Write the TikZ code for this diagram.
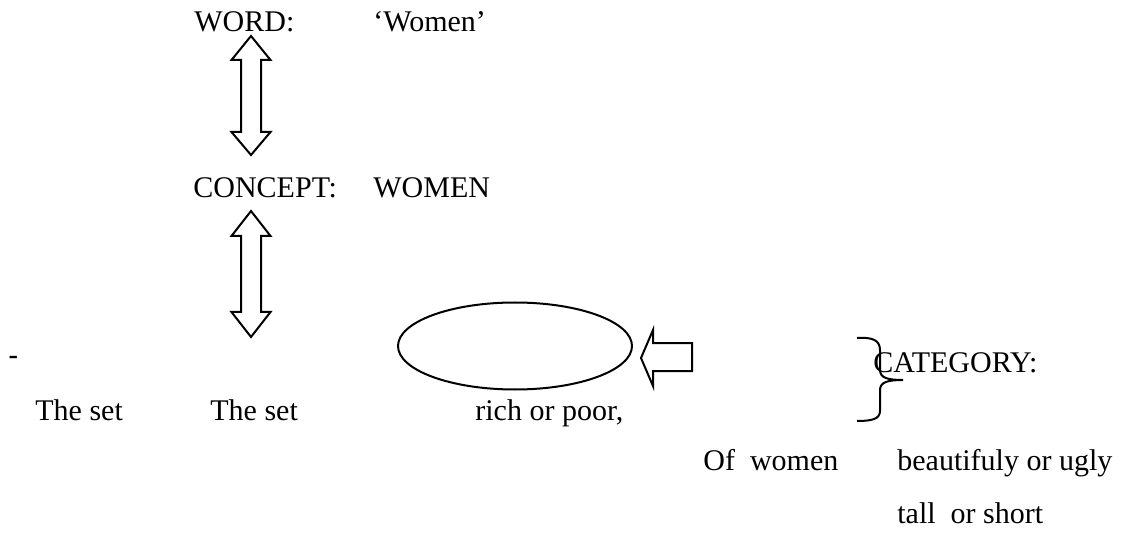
\documentclass[tikz,border=0pt]{standalone}
\usepackage{fontspec}
\setmainfont{Liberation Serif}
\setsansfont{Liberation Sans}
\usetikzlibrary{shapes.geometric}

\tikzset{
  lbl/.style={anchor=base west, inner sep=0pt, font=\fontsize{15}{18}\selectfont},
  blockarrow/.style={draw, line width=1pt, line join=miter}
}

\begin{document}
\begin{tikzpicture}[x=0.5pt, y=-0.5pt]
  \useasboundingbox (0,0) rectangle (1137,535);

  % word
  \node[lbl] (word) at (194,32) {WORD:};
  \node[lbl] (wordval) at (373,32) {`Women'};

  % word <-> concept
  \draw[blockarrow] (251,36) -- (270.5,60) -- (261,60) -- (261,132) -- (270.5,132)
    -- (251,155) -- (231.5,132) -- (241,132) -- (241,60) -- (231.5,60) -- cycle;

  % concept
  \node[lbl] (concept) at (193,198) {CONCEPT:};
  \node[lbl] (conceptval) at (373,198) {WOMEN};

  % concept <-> set
  \draw[blockarrow] (251,211) -- (270.5,236) -- (261,236) -- (261,312) -- (270.5,312)
    -- (251,337) -- (231.5,312) -- (241,312) -- (241,236) -- (231.5,236) -- cycle;

  % set and category
  \node[lbl, font=\fontsize{15}{18}\sffamily] (dash) at (8,365) {-};
  \node[ellipse, draw, line width=1pt, minimum width=117pt, minimum height=43.5pt] (set) at (515,346) {};
  \draw[blockarrow] (641,358) -- (653,330) -- (653,343) -- (692,343) -- (692,371)
    -- (653,371) -- (653,386) -- cycle;
  \draw[line width=1pt] (857,338) .. controls (872,337) and (880,340) .. (880,350)
    -- (880,370) .. controls (880,378) and (888,380) .. (903,380)
    .. controls (888,380) and (880,382) .. (880,390)
    -- (880,411) .. controls (880,419) and (872,421) .. (857,421);
  \node[lbl] (category) at (873,372) {CATEGORY:};

  % members
  \node[lbl] (set1) at (35,420) {The set};
  \node[lbl] (set2) at (210,420) {The set};
  \node[lbl] (rich) at (475,420) {rich or poor,};
  \node[lbl] (ofwomen) at (703,470) {Of\ \ women};
  \node[lbl] (beauty) at (897,470) {beautifuly or ugly};
  \node[lbl] (tall) at (897,523) {tall\ \ or short};
\end{tikzpicture}
\end{document}
